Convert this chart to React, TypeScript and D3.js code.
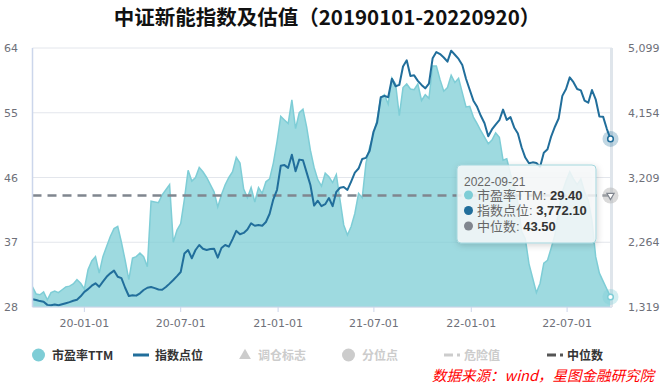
import React from 'react'
import * as d3 from 'd3'

// weekly samples, first date below, last one is 2022-09-21
const START_DATE = '2019-09-25'

const xTicks = ['2020-01-01', '2020-07-01', '2021-01-01', '2021-07-01', '2022-01-01', '2022-07-01']
const peTicks = [28, 37, 46, 55, 64]
const indexTicks = [1319, 2264, 3209, 4154, 5099]
const MEDIAN_PE = 43.5

const peTTM = [
  30.8, 29.8, 29.7, 30.1, 29.0, 30.0, 30.2, 30.0, 30.4, 30.8,
  30.9, 31.2, 31.8, 31.3, 30.5, 33.2, 34.4, 35.0, 32.7, 35.0,
  36.4, 37.8, 38.9, 39.2, 37.0, 34.5, 31.8, 34.8, 35.0, 35.5,
  35.0, 33.6, 42.7, 42.6, 42.5, 43.6, 44.3, 45.0, 37.0, 38.7,
  39.6, 43.0, 47.0, 45.5, 46.0, 47.4, 46.8, 46.0, 45.0, 44.0,
  41.9, 43.6, 45.0, 46.0, 46.8, 48.8, 48.0, 44.4, 43.2, 44.6,
  42.6, 44.6, 43.8, 45.4, 45.8, 48.0, 51.0, 54.5, 54.0, 53.5,
  56.8, 52.8, 55.0, 55.5, 53.0, 49.8, 47.4, 45.7, 44.8, 46.6,
  46.1, 45.3, 46.4, 42.9, 39.4, 38.0, 39.2, 41.0, 43.8, 43.2,
  48.0, 50.2, 51.9, 54.0, 57.1, 57.5, 56.2, 59.8, 59.0, 54.6,
  58.5, 59.0, 58.3, 58.2, 59.0, 56.7, 57.5, 57.0, 61.5, 61.5,
  59.6, 58.0, 58.5, 60.2, 59.2, 59.8, 57.8, 55.8, 55.9, 54.4,
  53.5, 52.5, 51.6, 50.7, 51.2, 52.2, 51.6, 48.4, 48.6, 46.5,
  45.0, 42.5, 38.5, 37.5, 34.0, 32.0, 30.0, 31.3, 34.1, 34.5,
  36.2, 38.0, 41.5, 44.0, 45.5, 46.8, 45.8, 45.0, 45.8, 44.0,
  42.8, 40.0, 35.0, 32.7, 31.6, 30.5, 29.4
]

const indexLevel = [
  1431, 1420, 1405, 1396, 1350, 1345, 1355, 1345, 1360, 1375,
  1390, 1410, 1426, 1475, 1540, 1580, 1630, 1665, 1615, 1690,
  1760, 1810, 1850, 1761, 1740, 1600, 1480, 1490, 1485, 1519,
  1567, 1600, 1610, 1595, 1575, 1570, 1610, 1660, 1713, 1770,
  1830, 2100, 2150, 2030, 2151, 2224, 2170, 2151, 2165, 2170,
  2040, 2180, 2224, 2200, 2310, 2430, 2380, 2400, 2450, 2540,
  2505, 2515, 2505, 2560, 2680, 2890, 3030, 3380, 3390, 3350,
  3540, 3300, 3470, 3460, 3280, 3100, 2800, 2870, 2790, 2820,
  2910, 2790, 3000, 3060, 3070, 3027, 3150, 3280, 3340, 3480,
  3495, 3600, 3870, 4010, 4380, 4400, 4380, 4650, 4540, 4560,
  4830, 4920, 4690, 4700, 4620, 4560, 4510, 4580, 4950, 5040,
  5010, 4960, 4900, 5060, 5000, 4940, 4850, 4650, 4490, 4330,
  4240, 4110, 4000, 3810, 3910, 3980, 4045, 4200, 4050, 4090,
  3940, 3850, 3650, 3500, 3416, 3430, 3420, 3367, 3570, 3620,
  3810, 3950, 4070, 4400, 4500, 4670, 4600, 4500, 4480, 4330,
  4300, 4486, 4350, 4100, 4097, 3920, 3772.1
]

const legendItems = ['市盈率TTM', '指数点位', '调仓标志', '分位点', '危险值', '中位数']

const PE_COLOR = '#7ecdd6'
const INDEX_COLOR = '#216e9b'
const MEDIAN_COLOR = '#80868f'
const OFF_COLOR = '#cccccc'
const CJK = '"Noto Sans CJK SC", "Noto Sans", sans-serif'
const TIP = '"Liberation Sans", "Noto Sans CJK SC", sans-serif'
const NUM = '"DejaVu Sans", sans-serif'

const parse = d3.timeParse('%Y-%m-%d')
const fmtTick = d3.timeFormat('%y-%m-%d')
const fmtDate = d3.timeFormat('%Y-%m-%d')

export default function App() {
  const W = 663
  const H = 386
  const left = 32.5
  const right = 612
  const top = 48
  const bottom = 307

  const start = parse(START_DATE) as Date
  const dates = peTTM.map((_, i) => d3.timeDay.offset(start, i * 7))
  const rows = dates.map((d, i) => ({ date: d, pe: peTTM[i], idx: indexLevel[i] }))
  const last = rows[rows.length - 1]

  const x = d3.scaleTime().domain([dates[0], last.date]).range([left, 610.5])
  const yL = d3.scaleLinear().domain([28, 64]).range([bottom, top])
  const yR = d3.scaleLinear().domain([1319, 5099]).range([bottom, top])

  const area = d3.area<typeof rows[0]>()
    .x(d => x(d.date))
    .y0(bottom)
    .y1(d => yL(d.pe))
  const peLine = d3.line<typeof rows[0]>().x(d => x(d.date)).y(d => yL(d.pe))
  const idxLine = d3.line<typeof rows[0]>().x(d => x(d.date)).y(d => yR(d.idx))

  const lx = x(last.date)
  const medY = yL(MEDIAN_PE)

  // tooltip box
  const tx = 457
  const ty = 165

  return (
    <svg width={W} height={H} style={{ position: 'absolute', left: 0, top: 0 }}>
      <defs>
        <filter id="tipShadow" x="-20%" y="-20%" width="140%" height="150%">
          <feDropShadow dx="1" dy="2" stdDeviation="3" floodColor="#000" floodOpacity="0.18" />
        </filter>
      </defs>
      <rect width={W} height={H} fill="#fff" />

      <text x={327} y={25} textAnchor="middle" fontFamily={CJK} fontWeight={700} fontSize={20.5} fill="#111">
        中证新能指数及估值（20190101-20220920）
      </text>

      {/* grid */}
      {peTicks.map(t => (
        <line key={t} x1={left} x2={right} y1={yL(t)} y2={yL(t)} stroke="#e3e6ec" strokeWidth={1} />
      ))}

      <path d={area(rows) ?? ''} fill={PE_COLOR} fillOpacity={0.75} />
      <path d={peLine(rows) ?? ''} fill="none" stroke={PE_COLOR} strokeWidth={1.5} />

      <line x1={left} x2={lx} y1={medY} y2={medY} stroke={MEDIAN_COLOR} strokeWidth={2.5} strokeDasharray="9,6" />

      <path d={idxLine(rows) ?? ''} fill="none" stroke={INDEX_COLOR} strokeWidth={2} strokeLinejoin="round" />

      {/* axis lines and ticks */}
      <line x1={left} x2={left} y1={top} y2={bottom} stroke="#ccd6eb" strokeWidth={1.5} />
      <line x1={left} x2={right} y1={bottom} y2={bottom} stroke="#ccd6eb" strokeWidth={1} />
      <line x1={lx + 1} x2={lx + 1} y1={top} y2={bottom} stroke="#dfe5eb" strokeWidth={3} />

      {xTicks.map(t => {
        const d = parse(t) as Date
        const px = x(d)
        return (
          <g key={t}>
            <line x1={px} x2={px} y1={bottom} y2={bottom + 5} stroke="#ccd6eb" />
            <text x={px} y={327} textAnchor="middle" fontFamily={NUM} fontSize={11} fill="#6e7079">
              {fmtTick(d)}
            </text>
          </g>
        )
      })}

      {peTicks.map(t => (
        <text key={t} x={18} y={yL(t) + 4} textAnchor="end" fontFamily={NUM} fontSize={11} fill="#6e7079">
          {t}
        </text>
      ))}
      {indexTicks.map(t => (
        <text key={t} x={628} y={yR(t) + 4} fontFamily={NUM} fontSize={11} fill="#6e7079">
          {d3.format(',')(t)}
        </text>
      ))}

      {/* end markers */}
      <circle cx={lx} cy={yR(last.idx)} r={8} fill={INDEX_COLOR} fillOpacity={0.28} />
      <circle cx={lx} cy={yR(last.idx)} r={2.8} fill="#fff" stroke={INDEX_COLOR} strokeWidth={1.5} />
      <circle cx={lx} cy={medY} r={8} fill="#b5b5b5" fillOpacity={0.5} />
      <path d={d3.symbol(d3.symbolTriangle, 22)() ?? ''} transform={`translate(${lx},${medY}) rotate(180)`} fill="#fff" stroke={MEDIAN_COLOR} strokeWidth={1.2} />
      <circle cx={lx} cy={yL(last.pe)} r={8} fill={PE_COLOR} fillOpacity={0.35} />
      <circle cx={lx} cy={yL(last.pe)} r={2.8} fill="#fff" stroke={PE_COLOR} strokeWidth={1.5} />

      {/* tooltip */}
      <g filter="url(#tipShadow)">
        <rect x={tx} y={ty} width={139} height={78} rx={4} fill="rgba(247,249,250,0.86)" stroke="#a3d6dd" strokeWidth={1} />
      </g>
      <text x={tx + 7} y={ty + 20.5} fontFamily={TIP} fontSize={12} fill="#666">{fmtDate(last.date)}</text>
      {[
        { c: PE_COLOR, label: '市盈率TTM: ', val: d3.format('.2f')(last.pe) },
        { c: INDEX_COLOR, label: '指数点位: ', val: d3.format(',.2f')(last.idx) },
        { c: MEDIAN_COLOR, label: '中位数: ', val: d3.format('.2f')(MEDIAN_PE) }
      ].map((r, i) => (
        <g key={r.label}>
          <circle cx={tx + 11.5} cy={ty + 30 + i * 15.5} r={4.5} fill={r.c} />
          <text x={tx + 20} y={ty + 34.5 + i * 15.5} fontFamily={TIP} fontSize={13} fill="#666">
            {r.label}
            <tspan fontWeight={700} fill="#333">{r.val}</tspan>
          </text>
        </g>
      ))}

      {/* legend */}
      <g fontFamily={CJK} fontSize={12} fontWeight={700}>
        <circle cx={38.5} cy={355} r={6.5} fill={PE_COLOR} />
        <text x={52} y={359.5} fill="#333">{legendItems[0]}</text>
        <line x1={133} x2={149} y1={355} y2={355} stroke={INDEX_COLOR} strokeWidth={3} />
        <text x={155} y={359.5} fill="#333">{legendItems[1]}</text>
        <path d={d3.symbol(d3.symbolTriangle, 60)() ?? ''} transform="translate(245,355.5)" fill={OFF_COLOR} />
        <text x={258} y={359.5} fill={OFF_COLOR}>{legendItems[2]}</text>
        <circle cx={348.5} cy={355} r={6.5} fill={OFF_COLOR} />
        <text x={362} y={359.5} fill={OFF_COLOR}>{legendItems[3]}</text>
        <line x1={444} x2={453} y1={355} y2={355} stroke={OFF_COLOR} strokeWidth={3} />
        <line x1={457} x2={460} y1={355} y2={355} stroke={OFF_COLOR} strokeWidth={3} />
        <text x={464} y={359.5} fill={OFF_COLOR}>{legendItems[4]}</text>
        <line x1={547} x2={556} y1={355} y2={355} stroke="#555" strokeWidth={3} />
        <line x1={560} x2={563} y1={355} y2={355} stroke="#555" strokeWidth={3} />
        <text x={567} y={359.5} fill="#333">{legendItems[5]}</text>
      </g>

      <text x={432} y={381} fontFamily={CJK} fontSize={14.5} fontStyle="italic" fill="#ff0000">
        数据来源：wind，星图金融研究院
      </text>
    </svg>
  )
}
